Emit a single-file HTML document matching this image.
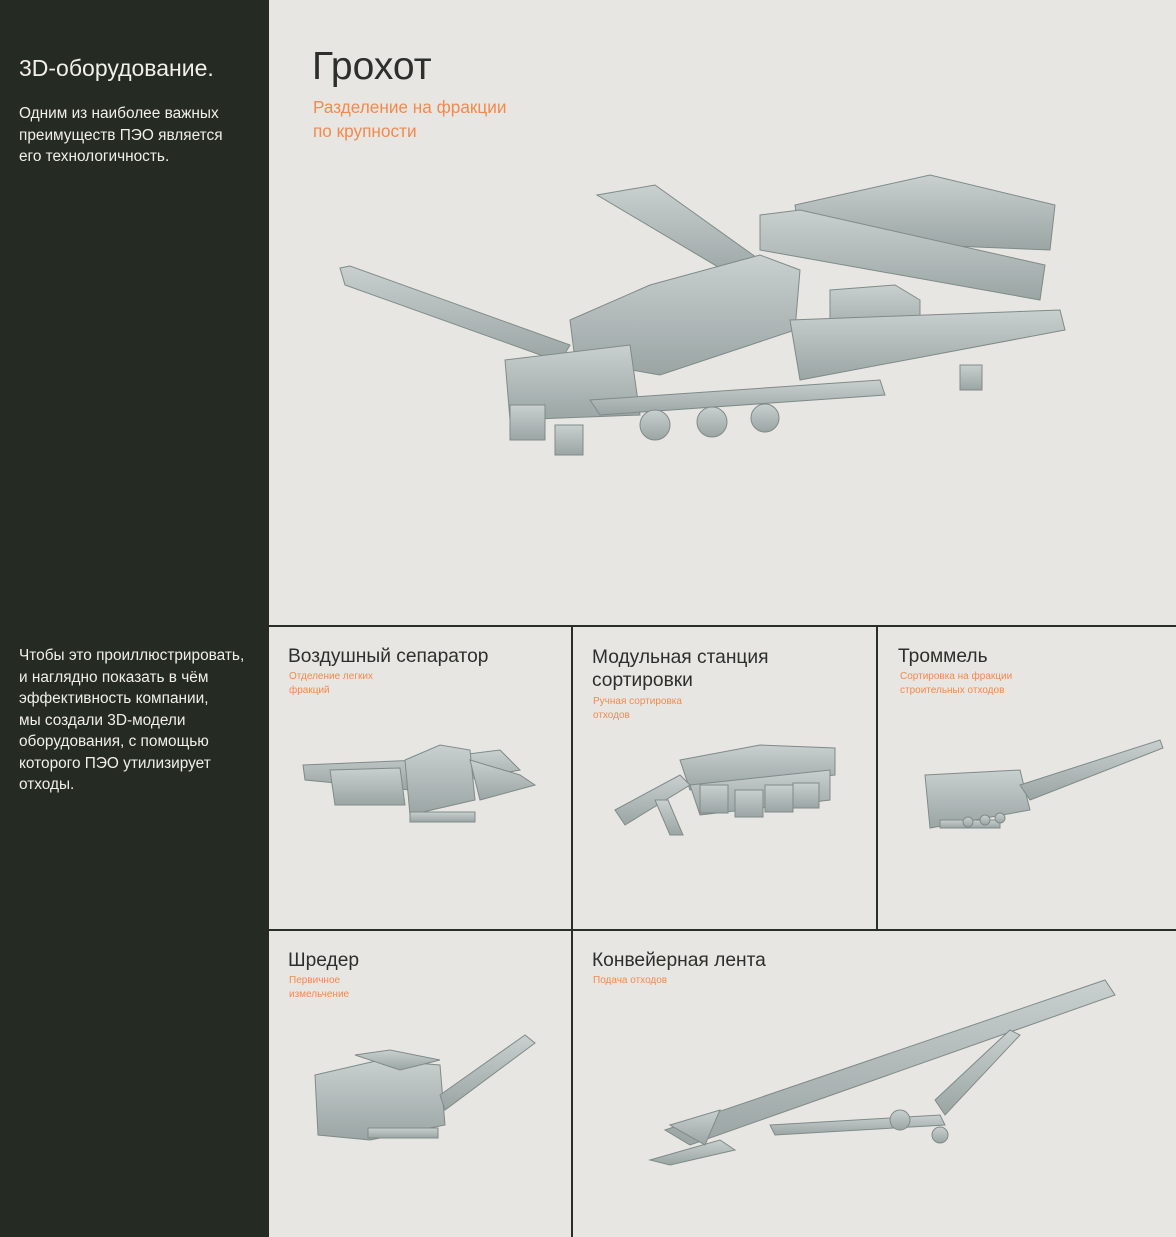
<!DOCTYPE html>
<html><head><meta charset="utf-8"><style>
*{margin:0;padding:0;box-sizing:border-box}
body{width:1176px;height:1237px;background:#e8e6e2;position:relative;overflow:hidden;font-family:"Liberation Sans",sans-serif}
.left{position:absolute;left:0;top:0;width:269px;height:1237px;background:#252a23;color:#f1efea}
.t{position:absolute;white-space:nowrap}
.h{color:#2c2f2b;font-size:19.2px}
.s{color:#f28a4e;font-size:10px;line-height:14px}
.ln{position:absolute;background:#2a2e28}
svg{position:absolute;left:0;top:0}
</style></head><body>
<div class="left">
<div class="t" style="left:19px;top:55px;font-size:23px">3D-оборудование.</div>
<div class="t" style="left:19px;top:103px;font-size:15.4px;line-height:21.5px">Одним из наиболее важных<br>преимуществ ПЭО является<br>его технологичность.</div>
<div class="t" style="left:19px;top:645px;font-size:15.4px;line-height:21.5px">Чтобы это проиллюстрировать,<br>и наглядно показать в чём<br>эффективность компании,<br>мы создали 3D-модели<br>оборудования, с помощью<br>которого ПЭО утилизирует<br>отходы.</div>
</div>
<div class="t" style="left:312px;top:45px;font-size:39px;color:#2c2f2b">Грохот</div>
<div class="t" style="left:313px;top:95px;font-size:17.2px;line-height:24px;color:#f28a4e">Разделение на фракции<br>по крупности</div>

<div class="ln" style="left:269px;top:625px;width:907px;height:2px"></div>
<div class="ln" style="left:269px;top:929px;width:907px;height:2px"></div>
<div class="ln" style="left:571px;top:625px;width:2px;height:612px"></div>
<div class="ln" style="left:876px;top:625px;width:2px;height:306px"></div>

<div class="t h" style="left:288px;top:646px">Воздушный сепаратор</div>
<div class="t s" style="left:289px;top:670px">Отделение легких<br>фракций</div>
<div class="t h" style="left:592px;top:646px;line-height:23px">Модульная станция<br>сортировки</div>
<div class="t s" style="left:593px;top:695px">Ручная сортировка<br>отходов</div>
<div class="t h" style="left:898px;top:646px">Троммель</div>
<div class="t s" style="left:900px;top:670px">Сортировка на фракции<br>строительных отходов</div>
<div class="t h" style="left:288px;top:950px">Шредер</div>
<div class="t s" style="left:289px;top:974px">Первичное<br>измельчение</div>
<div class="t h" style="left:592px;top:950px">Конвейерная лента</div>
<div class="t s" style="left:593px;top:974px">Подача отходов</div>

<svg width="1176" height="1237" viewBox="0 0 1176 1237">
<defs><linearGradient id="g" x1="0" y1="0" x2="0" y2="1"><stop offset="0" stop-color="#c9d0cf"/><stop offset="1" stop-color="#9aa5a4"/></linearGradient></defs>
<g fill="url(#g)" stroke="#7f8a89" stroke-width="1">
<polygon points="340,268 350,266 570,345 560,362 345,285"/>
<polygon points="597,195 655,185 760,260 740,280"/>
<polygon points="795,205 930,175 1055,205 1050,250 800,240"/>
<polygon points="760,215 800,210 1045,265 1040,300 760,250"/>
<polygon points="570,320 650,285 760,255 800,270 795,330 660,375 575,360"/>
<polygon points="830,290 895,285 920,300 920,335 830,340"/>
<polygon points="790,320 1060,310 1065,330 800,380"/>
<polygon points="505,360 630,345 640,415 510,420"/>
<polygon points="590,400 880,380 885,395 600,415"/>
<rect x="510" y="405" width="35" height="35"/>
<rect x="555" y="425" width="28" height="30"/>
<rect x="960" y="365" width="22" height="25"/>
<circle cx="655" cy="425" r="15"/><circle cx="712" cy="422" r="15"/><circle cx="765" cy="418" r="14"/>
<polygon points="303,765 420,760 500,750 520,770 410,790 305,780"/>
<polygon points="330,770 400,768 405,805 335,805"/>
<polygon points="405,760 440,745 470,750 475,800 410,815"/>
<polygon points="470,760 520,775 535,785 480,800"/>
<rect x="410" y="812" width="65" height="10"/>
<polygon points="680,760 760,745 835,748 835,775 690,790"/>
<polygon points="690,785 830,770 830,800 700,815"/>
<rect x="700" y="785" width="28" height="28"/><rect x="735" y="790" width="28" height="27"/><rect x="765" y="785" width="28" height="27"/><rect x="793" y="783" width="26" height="25"/>
<polygon points="615,810 680,775 690,785 625,825"/>
<polygon points="655,800 668,800 683,835 670,835"/>
<polygon points="925,775 1020,770 1030,810 930,828"/>
<polygon points="1020,785 1160,740 1163,748 1030,800"/>
<rect x="940" y="820" width="60" height="8"/>
<circle cx="968" cy="822" r="5"/><circle cx="985" cy="820" r="5"/><circle cx="1000" cy="818" r="5"/>
<polygon points="315,1075 380,1060 440,1065 445,1125 370,1140 318,1135"/>
<polygon points="355,1055 390,1050 440,1060 400,1070"/>
<polygon points="440,1095 525,1035 535,1043 445,1110"/>
<rect x="368" y="1128" width="70" height="10"/>
<polygon points="665,1130 1105,980 1115,995 690,1145"/>
<polygon points="650,1160 720,1140 735,1150 670,1165"/>
<polygon points="670,1125 720,1110 705,1145"/>
<polygon points="770,1125 940,1115 945,1125 775,1135"/>
<polygon points="935,1100 1010,1030 1020,1035 945,1115"/>
<circle cx="900" cy="1120" r="10"/><circle cx="940" cy="1135" r="8"/>
</g>
</svg>
</body></html>
